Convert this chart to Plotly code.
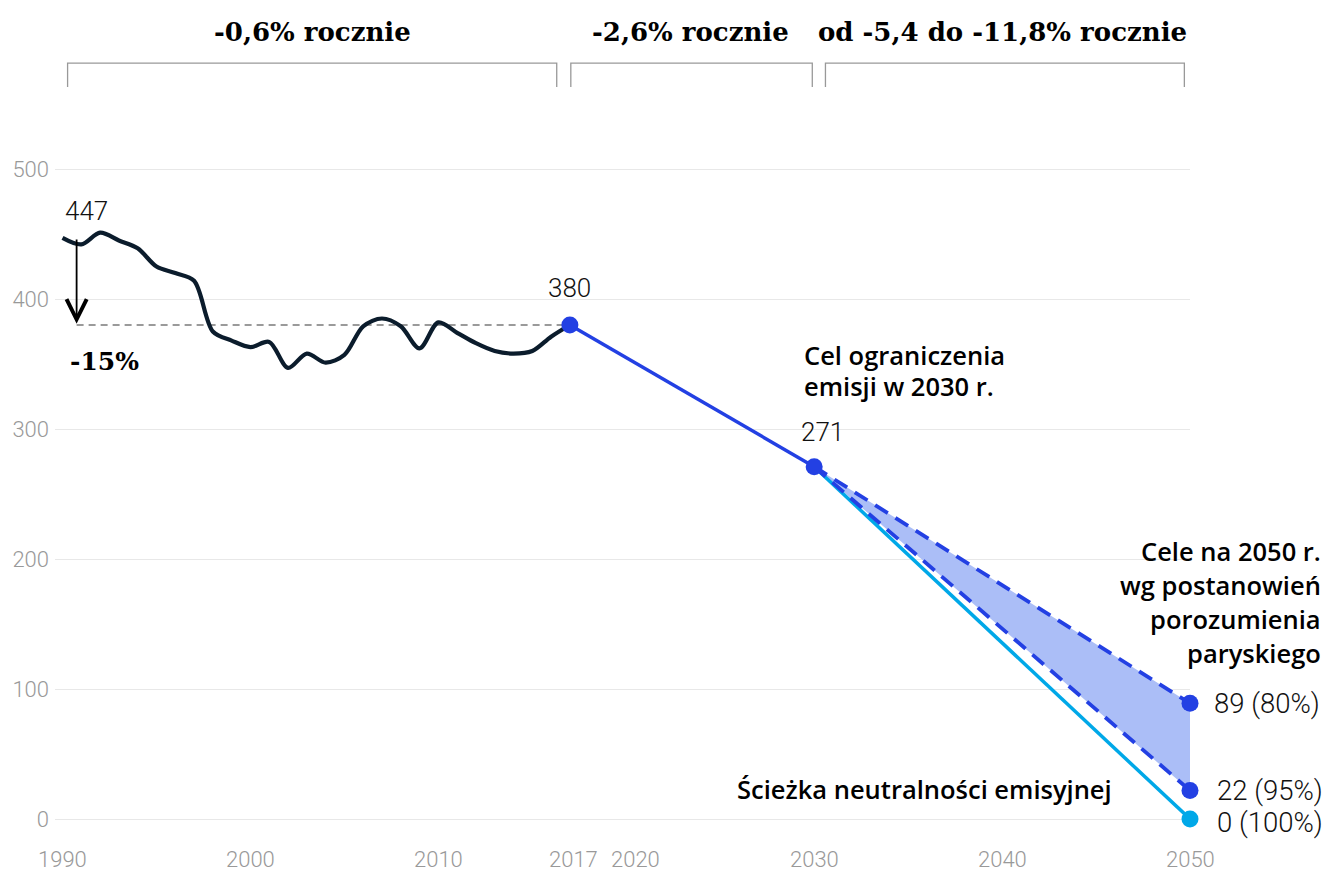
import plotly.graph_objects as go

# ---------------- data ----------------
hist_years = list(range(1990, 2018))
hist_values = [447, 442, 451, 445, 439, 425, 420, 414, 375, 368, 363, 367, 347, 358,
               351, 357, 379, 385, 379, 362, 382, 374, 366, 360, 358, 360, 371, 380]

target_years = [2017, 2030]
target_values = [380, 271]

upper_years = [2030, 2050]
upper_values = [271, 89]      # 80%
lower_years = [2030, 2050]
lower_values = [271, 22]      # 95%
neutral_years = [2030, 2050]
neutral_values = [271, 0]     # 100%

x_tickvals = [1990, 2000, 2010, 2017, 2020, 2030, 2040, 2050]
x_ticknudge = [0, 0, 0, 0.2, 0.5, 0, 0, 0]   # label offsets (years) to avoid crowding
y_tickvals = [0, 100, 200, 300, 400, 500]

period_labels = ["-0,6% rocznie", "-2,6% rocznie", "od -5,4 do -11,8% rocznie"]
period_centers = [2003.3, 2023.4, 2040.0]
period_spans = [(1990.27, 2016.3), (2017.05, 2029.9), (2030.6, 2049.7)]

BLUE = "#2340e3"
CYAN = "#00a8e8"
FILL = "#abbef7"
DARK = "#0b1c2c"
GRAY = "#999999"

SANS = "Roboto"
BOLD = "Open Sans"
SERIF = "DejaVu Serif"

X_RANGE = [1989.6, 2050.0]
Y_RANGE = [-20, 630]


def xp(year):
    return (year - X_RANGE[0]) / (X_RANGE[1] - X_RANGE[0])


def yp(val):
    return (val - Y_RANGE[0]) / (Y_RANGE[1] - Y_RANGE[0])


fig = go.Figure()

# fill between 80% and 95% paths
fig.add_trace(go.Scatter(
    x=[upper_years[0], upper_years[1], lower_years[1], lower_years[0]],
    y=[upper_values[0], upper_values[1], lower_values[1], lower_values[0]],
    fill="toself", fillcolor=FILL, line=dict(width=0), mode="lines",
    hoverinfo="skip", showlegend=False))

# neutrality path
fig.add_trace(go.Scatter(x=neutral_years, y=neutral_values, mode="lines",
                         line=dict(color=CYAN, width=3.5), showlegend=False,
                         hoverinfo="skip"))
# dashed paths
for yrs, vals in [(upper_years, upper_values), (lower_years, lower_values)]:
    fig.add_trace(go.Scatter(x=yrs, y=vals, mode="lines",
                             line=dict(color=BLUE, width=3.8, dash="15px,9px"),
                             showlegend=False, hoverinfo="skip"))

# history
fig.add_trace(go.Scatter(x=hist_years, y=hist_values, mode="lines",
                         line=dict(color=DARK, width=4.2, shape="spline", smoothing=0.9),
                         showlegend=False, hoverinfo="skip", cliponaxis=False))

# 2017 -> 2030 target
fig.add_trace(go.Scatter(x=target_years, y=target_values, mode="lines",
                         line=dict(color=BLUE, width=3.5),
                         showlegend=False, hoverinfo="skip"))

# markers
fig.add_trace(go.Scatter(
    x=target_years + [upper_years[1], lower_years[1]],
    y=target_values + [upper_values[1], lower_values[1]],
    mode="markers", marker=dict(color=BLUE, size=17),
    showlegend=False, hoverinfo="skip", cliponaxis=False))
fig.add_trace(go.Scatter(
    x=[neutral_years[1]], y=[neutral_values[1]],
    mode="markers", marker=dict(color=CYAN, size=17),
    showlegend=False, hoverinfo="skip", cliponaxis=False))

shapes = []
# dashed reference line at 2017 level
shapes.append(dict(type="line", xref="x", yref="y", x0=1990.75, x1=target_years[0],
                   y0=target_values[0], y1=target_values[0],
                   line=dict(color="#7a7a7a", width=1.6, dash="7px,5px"), layer="below"))
# period brackets
for (a, b) in period_spans:
    shapes.append(dict(type="path", xref="x", yref="y",
                       path=f"M{a},563 L{a},581.5 L{b},581.5 L{b},563",
                       line=dict(color=GRAY, width=1.3)))

annotations = []
# arrow 447 -> 380
annotations.append(dict(x=1990.75, y=target_values[0] + 1, ax=1990.75, ay=hist_values[0],
                        xref="x", yref="y", axref="x", ayref="y", text="",
                        showarrow=True, arrowhead=5, arrowsize=2.2, arrowwidth=1.8,
                        arrowcolor="#000"))


def txt(x, y, text, size=26, color="#111", family=SANS, weight=300, xanchor="center", **kw):
    annotations.append(dict(x=xp(x), y=yp(y), xref="paper", yref="paper", text=text,
                            showarrow=False, xanchor=xanchor, yanchor="middle",
                            font=dict(family=family, size=size, color=color, weight=weight), **kw))


# x tick labels
for v, n in zip(x_tickvals, x_ticknudge):
    txt(v + n, -31.5, str(v), size=22, color=GRAY)

txt(1990.05, 468, str(hist_values[0]), xanchor="left")
txt(1990.3, 352, "-15%", size=25, family=SERIF, weight=700, color="#000", xanchor="left")
txt(2017, 408.5, str(target_values[0]))
txt(2030.45, 297.7, str(target_values[1]))

BSZ = 25.5
txt(2029.35, 357, "Cel ograniczenia", size=BSZ, weight=600, family=BOLD, color="#000", xanchor="left")
txt(2029.35, 333, "emisji w 2030 r.", size=BSZ, weight=600, family=BOLD, color="#000", xanchor="left")

for i, line in enumerate(["Cele na 2050 r.", "wg postanowień", "porozumienia", "paryskiego"]):
    txt(2057.1, 206 - i * 26, line, size=BSZ, weight=600, family=BOLD, color="#000", xanchor="right")

txt(2045.95, 23, "Ścieżka neutralności emisyjnej", size=BSZ, weight=600, family=BOLD,
    color="#000", xanchor="right")

txt(2051.15, upper_values[1], f"{upper_values[1]} (80%)", size=27.5, xanchor="left")
txt(2051.35, lower_values[1], f"{lower_values[1]} (95%)", size=27.5, xanchor="left")
txt(2051.35, neutral_values[1] - 2.5, f"{neutral_values[1]} (100%)", size=27.5, xanchor="left")

for lab, cx in zip(period_labels, period_centers):
    txt(cx, 605, lab, size=26, family=SERIF, weight=700, color="#000")

fig.update_layout(
    width=1327, height=873,
    margin=dict(l=55, r=137, t=0, b=28),
    plot_bgcolor="white", paper_bgcolor="white",
    shapes=shapes, annotations=annotations,
    showlegend=False,
    xaxis=dict(range=X_RANGE, tickvals=x_tickvals, showticklabels=False,
               showgrid=False, zeroline=False, showline=False, ticks=""),
    yaxis=dict(range=Y_RANGE, tickvals=y_tickvals,
               showgrid=True, gridcolor="#e8e8e8", gridwidth=1.3,
               zeroline=False, showline=False, ticks="", ticklabelstandoff=5,
               tickfont=dict(family=SANS, size=22, color=GRAY, weight=300)),
    hovermode=False,
)

fig.write_html("out.html")
